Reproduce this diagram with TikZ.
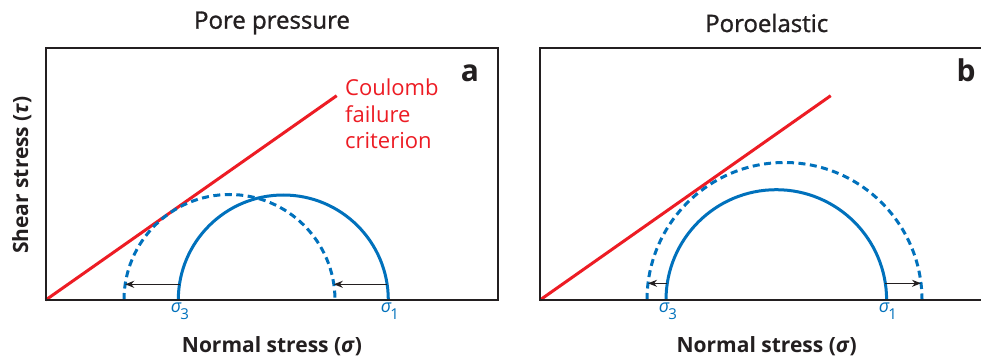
\documentclass[tikz,border=0pt]{standalone}
\usepackage{fontspec}
\setmainfont{Open Sans}
\newfontfamily\semibfont[FakeBold=1.2]{Open Sans}
\usetikzlibrary{arrows.meta}
\definecolor{cblue}{RGB}{0,113,188}
\definecolor{cred}{RGB}{237,28,36}
\definecolor{cblack}{RGB}{35,31,32}
\tikzset{
  x=1pt,y=1pt,
  panelbox/.style={draw=cblack,line width=2pt},
  crit/.style={draw=cred,line width=3pt},
  mohr/.style={draw=cblue,line width=3pt},
  mohrdash/.style={draw=cblue,line width=3pt,dash pattern=on 7pt off 4.5pt},
  shift arrow/.style={draw=cblack,line width=1.4pt,-{Stealth[length=9pt,width=7pt]}},
  title/.style={font=\semibfont\fontsize{24}{28}\selectfont,text=cblack,inner sep=0pt},
  axislabel/.style={font=\fontsize{21}{25}\selectfont\bfseries,text=cblack,inner sep=0pt},
  panellabel/.style={font=\fontsize{30}{34}\selectfont\bfseries,text=cblack,inner sep=0pt},
  redtext/.style={font=\fontsize{22}{26}\selectfont,text=cred,inner sep=0pt,anchor=base west},
  siglabel/.style={font=\fontsize{18}{20}\selectfont,text=cblue,inner sep=0pt,anchor=base},
}
\newcommand{\sigsub}[1]{{\itshape σ}\kern-1pt\raisebox{-0.4em}{\fontsize{15}{16}\selectfont #1}}
\begin{document}
\begin{tikzpicture}
\clip (0,0) rectangle (981,359);
\fill[white] (0,0) rectangle (981,359);

% ---------- panel a ----------
\node[title] (ta) at (272,336) {Pore pressure};
\coordinate (a0) at (45.7,59);
\coordinate (aend) at (336.7,263.3);
\draw[crit] (a0) -- (aend);
% dashed circle
\draw[mohrdash] (124,59) arc[start angle=180,end angle=0,radius=105.5];
% solid circle
\draw[mohr] (178.3,59) arc[start angle=180,end angle=0,radius=105];
\coordinate (as3) at (179.5,74.7);
\coordinate (ad3) at (125.2,74.7);
\coordinate (as1) at (387.1,74.7);
\coordinate (ad1) at (333.8,74.7);
\draw[shift arrow] (as3) -- (ad3);
\draw[shift arrow] (as1) -- (ad1);
\draw[panelbox] (45.7,59) rectangle (498,311);
\node[panellabel,anchor=base] (la) at (470,277.3) {a};
\node[redtext] (c1) at (345,263) {Coulomb};
\node[redtext] (c2) at (345,236.3) {failure};
\node[redtext] (c3) at (345,210) {criterion};
\node[siglabel] (sa3) at (180,47) {\sigsub{3}};
\node[siglabel] (sa1) at (390,47) {\sigsub{1}};
\node[axislabel] (xa) at (272,13) {Normal stress (\textit{σ})};
\node[axislabel,rotate=90] (ya) at (21.7,184) {Shear stress (\textit{τ})};

% ---------- panel b ----------
\node[title] (tb) at (766.7,336) {Poroelastic};
\coordinate (b0) at (540,59);
\coordinate (bend) at (830.7,263.3);
\draw[crit] (b0) -- (bend);
\draw[mohrdash] (647,59) arc[start angle=180,end angle=0,radius=137.5];
\draw[mohr] (666,59) arc[start angle=180,end angle=0,radius=110.3];
\coordinate (bs3) at (667.3,75.7);
\coordinate (bd3) at (648,75.7);
\coordinate (bs1) at (885.3,75.7);
\coordinate (bd1) at (921,75.7);
\draw[shift arrow] (bs3) -- (bd3);
\draw[shift arrow] (bs1) -- (bd1);
\draw[panelbox] (540,59) rectangle (1000,311);
\node[panellabel,anchor=base] (lb) at (966,277.3) {b};
\node[siglabel] (sb3) at (668,47) {\sigsub{3}};
\node[siglabel] (sb1) at (888,47) {\sigsub{1}};
\node[axislabel] (xb) at (766.7,13) {Normal stress (\textit{σ})};
\end{tikzpicture}
\end{document}
